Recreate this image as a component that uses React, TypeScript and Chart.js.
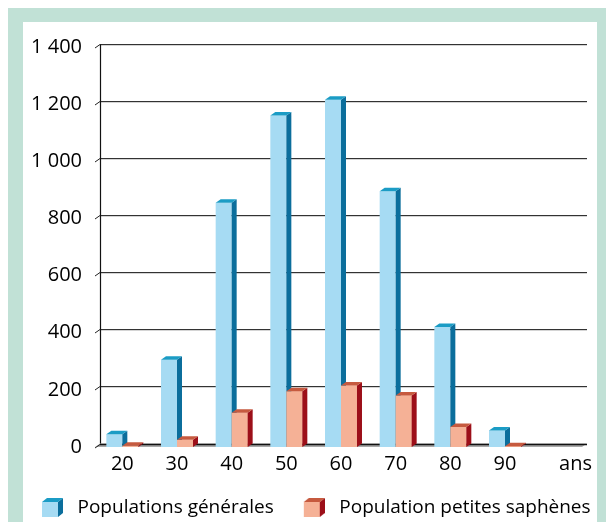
import React, { useEffect, useRef } from "react";
import { Chart, registerables } from "chart.js";

Chart.register(...registerables);

const categories = ["20", "30", "40", "50", "60", "70", "80", "90", ""];
const generalPopulation = [45, 305, 855, 1160, 1215, 895, 420, 58, null];
const smallSaphenous = [4, 25, 120, 195, 215, 180, 70, 3, null];
const yTickValues = [0, 200, 400, 600, 800, 1000, 1200, 1400];
const yTickLabels = ["0", "200", "400", "600", "800", "1 000", "1 200", "1 400"];
const seriesLabels = ["Populations générales", "Population petites saphènes"];
const axisUnit = "ans";

const FONT = "'Open Sans', 'Liberation Sans', sans-serif";
const TICK_SIZE = 20;
const LEGEND_SIZE = 19;
const X_TICK_PAD = 5;
const DX = 5;
const DY = 3.5;

const palette = [
  { front: "#a6dbf3", side: "#0b6e9c", top: "#1b9cc5" },
  { front: "#f5b196", side: "#9c0f19", top: "#c65a3f" },
];

// legend icon: small 3D block drawn at the right end of a transparent strip
function makeIcon(c: { front: string; side: string; top: string }) {
  const cv = document.createElement("canvas");
  cv.width = 46;
  cv.height = 19;
  const g = cv.getContext("2d")!;
  const o = 25;
  g.fillStyle = c.front;
  g.fillRect(o, 4, 16, 15);
  g.fillStyle = c.side;
  g.beginPath();
  g.moveTo(o + 16, 4);
  g.lineTo(o + 21, 0);
  g.lineTo(o + 21, 15);
  g.lineTo(o + 16, 19);
  g.closePath();
  g.fill();
  g.fillStyle = c.top;
  g.beginPath();
  g.moveTo(o, 4);
  g.lineTo(o + 5, 0);
  g.lineTo(o + 21, 0);
  g.lineTo(o + 16, 4);
  g.closePath();
  g.fill();
  return cv;
}

function face(ctx: CanvasRenderingContext2D, pts: number[][], color: string) {
  ctx.fillStyle = color;
  ctx.beginPath();
  ctx.moveTo(pts[0][0], pts[0][1]);
  for (let i = 1; i < pts.length; i++) ctx.lineTo(pts[i][0], pts[i][1]);
  ctx.closePath();
  ctx.fill();
}

const threeD = {
  id: "threeD",
  beforeDatasetsDraw(chart: any) {
    const { ctx, chartArea: a } = chart;
    const y = chart.scales.y;
    const y0 = y.getPixelForValue(0);
    ctx.save();
    // floor
    face(
      ctx,
      [
        [a.left, y0],
        [a.left + DX, y0 - DY],
        [a.right, y0 - DY],
        [a.right - DX, y0],
      ],
      "#a8a8a8"
    );
    // gridlines on the back wall
    yTickValues.forEach((v) => {
      const py = Math.round(y.getPixelForValue(v) - DY) + 0.5;
      ctx.lineWidth = 1;
      if (v !== 0) {
        ctx.strokeStyle = "#d4d4d4";
        ctx.beginPath();
        ctx.moveTo(a.left + DX, py + 1);
        ctx.lineTo(a.right, py + 1);
        ctx.stroke();
      }
      ctx.strokeStyle = v === 0 ? "#111" : "#333";
      ctx.lineWidth = v === 0 ? 1.5 : 1.2;
      ctx.beginPath();
      ctx.moveTo(a.left + DX, py);
      ctx.lineTo(a.right, py);
      ctx.stroke();
      ctx.lineWidth = 1;
      ctx.strokeStyle = "#222";
      ctx.beginPath();
      ctx.moveTo(a.left, py + DY);
      ctx.lineTo(a.left + DX, py);
      ctx.stroke();
    });
    // wall axis line
    const topPy = Math.round(y.getPixelForValue(yTickValues[yTickValues.length - 1]) - DY) + 0.5;
    ctx.strokeStyle = "#111";
    ctx.lineWidth = 1.2;
    ctx.beginPath();
    ctx.moveTo(a.left + DX + 0.5, topPy);
    ctx.lineTo(a.left + DX + 0.5, y0 - DY);
    ctx.stroke();
    ctx.restore();
  },
  afterDatasetsDraw(chart: any) {
    const { ctx } = chart;
    ctx.save();
    chart.data.datasets.forEach((ds: any, i: number) => {
      const meta = chart.getDatasetMeta(i);
      const c = palette[i];
      meta.data.forEach((el: any, j: number) => {
        if (ds.data[j] == null) return;
        const { x, y, base, width } = el.getProps(["x", "y", "base", "width"], true);
        if (i > 0) el.draw(ctx);
        const l = x - width / 2;
        const r = x + width / 2;
        face(ctx, [[r, y], [r + DX, y - DY], [r + DX, base - DY], [r, base]], c.side);
        face(ctx, [[l, y], [l + DX, y - DY], [r + DX, y - DY], [r, y]], c.top);
      });
    });
    // unit label at the end of the category axis
    const xs = chart.scales.x;
    ctx.font = `${TICK_SIZE}px ${FONT}`;
    ctx.fillStyle = "#000";
    ctx.textAlign = "right";
    ctx.textBaseline = "middle";
    ctx.fillText(axisUnit, xs.right + 5, xs.top + X_TICK_PAD + (TICK_SIZE * 1.2) / 2);
    ctx.restore();
  },
};

export default function App() {
  const ref = useRef<HTMLCanvasElement | null>(null);

  useEffect(() => {
    if (!ref.current) return;
    const icons = palette.map(makeIcon);
    const chart = new Chart(ref.current, {
      type: "bar",
      data: {
        labels: categories,
        datasets: [
          {
            label: seriesLabels[0],
            data: generalPopulation,
            backgroundColor: palette[0].front,
            borderWidth: 0,
            barPercentage: 1,
            categoryPercentage: 0.585,
          },
          {
            label: seriesLabels[1],
            data: smallSaphenous,
            backgroundColor: palette[1].front,
            borderWidth: 0,
            barPercentage: 1,
            categoryPercentage: 0.585,
          },
        ],
      },
      options: {
        animation: false,
        responsive: true,
        maintainAspectRatio: false,
        layout: { padding: { top: 22.5, right: 0, left: 0, bottom: 0 } },
        plugins: {
          tooltip: { enabled: false },
          legend: {
            position: "bottom",
            align: "start",
            maxHeight: 24,
            labels: {
              usePointStyle: true,
              pointStyleWidth: 56,
              padding: 0,
              color: "#000",
              font: { family: FONT, size: LEGEND_SIZE },
              generateLabels: (ch: any) =>
                ch.data.datasets.map((ds: any, i: number) => ({
                  text: ds.label,
                  datasetIndex: i,
                  pointStyle: icons[i],
                  fillStyle: palette[i].front,
                  strokeStyle: "transparent",
                  lineWidth: 0,
                  hidden: false,
                  fontColor: "#000",
                })),
            },
          },
        },
        scales: {
          x: {
            grid: { display: false, drawTicks: false },
            border: { display: false },
            ticks: {
              padding: X_TICK_PAD,
              color: "#000",
              font: { family: FONT, size: TICK_SIZE },
              maxRotation: 0,
              autoSkip: false,
            },
            afterFit: (s: any) => {
              s.height = 51;
            },
          },
          y: {
            min: 0,
            max: 1400,
            grid: { display: false, drawTicks: false },
            border: { display: false },
            ticks: {
              stepSize: 200,
              padding: 13,
              color: "#000",
              font: { family: FONT, size: TICK_SIZE },
              callback: (v: any) => {
                const k = yTickValues.indexOf(Number(v));
                return k >= 0 ? yTickLabels[k] : "";
              },
            },
            afterFit: (s: any) => {
              s.width = 83;
            },
          },
          spacer: {
            type: "linear",
            position: "right",
            display: true,
            grid: { display: false, drawTicks: false },
            border: { display: false },
            ticks: { display: false },
            afterFit: (s: any) => {
              s.width = 9;
            },
          },
        },
      },
      plugins: [threeD],
    });
    return () => chart.destroy();
  }, []);

  return (
    <div
      style={{
        position: "fixed",
        left: 8,
        top: 8,
        right: 0,
        bottom: 0,
        background: "#c1e1d6",
        overflow: "hidden",
      }}
    >
      <div
        style={{
          position: "absolute",
          left: 15,
          top: 14,
          right: 9,
          bottom: 0,
          background: "#fff",
        }}
      />
      <div
        style={{
          position: "absolute",
          left: 4,
          top: 14,
          width: 584,
          height: 500,
        }}
      >
        <canvas ref={ref} />
      </div>
    </div>
  );
}
